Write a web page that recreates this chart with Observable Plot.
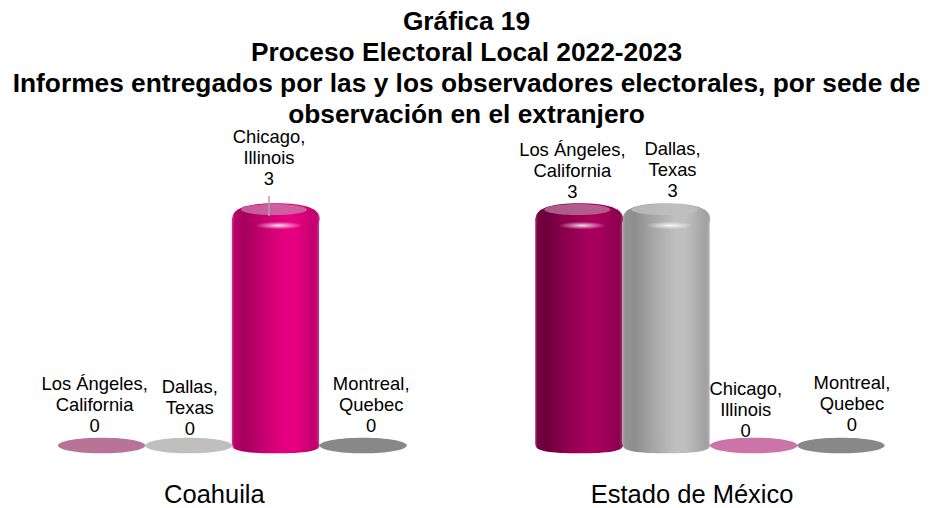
<!DOCTYPE html>
<html lang="es">
<head>
<meta charset="utf-8">
<script src="https://cdn.jsdelivr.net/npm/d3@7"></script>
<script src="https://cdn.jsdelivr.net/npm/@observablehq/plot@0.6"></script>
<style>
html,body{margin:0;padding:0;background:#fff;font-family:"Liberation Sans",Arial,sans-serif;overflow:hidden;}
#title{margin:0;height:128px;padding-top:6px;box-sizing:border-box;text-align:center;font-weight:700;font-size:26.3px;line-height:31px;color:#000;white-space:nowrap;}
#chart svg{display:block;}
</style>
</head>
<body>
<h1 id="title">Gráfica 19<br>Proceso Electoral Local 2022-2023<br>Informes entregados por las y los observadores electorales, por sede de<br>observación en el extranjero</h1>
<div id="chart"></div>
<script>
const groups = ["Coahuila", "Estado de México"];
const sites = ["Los Ángeles, California", "Dallas, Texas", "Chicago, Illinois", "Montreal, Quebec"];
const coahuilaValues = [0, 0, 3, 0];
const mexicoValues = [3, 3, 0, 0];

const rows = [
  ...sites.map((site, i) => ({group: groups[0], site, value: coahuilaValues[i]})),
  ...sites.map((site, i) => ({group: groups[1], site, value: mexicoValues[i]}))
];

// Styling, kept apart from the values
const flatFill = {"Los Ángeles, California": "#b87399", "Dallas, Texas": "#bfbfbf", "Chicago, Illinois": "#cc74a8", "Montreal, Quebec": "#888888"};
const shades = {
  pink: ["#d3338f", "#b8006a", "#a5005f", "#c4006f", "#e5007f", "#e5007f", "#c0006f", "#cc3090"],
  wine: ["#93305f", "#75003f", "#6e003c", "#8c004e", "#a6005c", "#a6005c", "#8c004e", "#a03070"],
  gray: ["#a8a8a8", "#929292", "#8e8e8e", "#a6a6a6", "#bfbfbf", "#bfbfbf", "#a0a0a0", "#b0b0b0"]
};
const shadeStops = [0, .03, .14, .35, .6, .72, .96, 1];
const gradientOf = d => d.site.startsWith("Dallas") ? "gray" : d.group === groups[0] ? "pink" : "wine";
const fillOf = d => `url(#g-${gradientOf(d)})`;

// Per-label nudges [dx, dy] from the bar's top, keyed group|site
const nudges = {
  "Coahuila|Los Ángeles, California": [-7, -14],
  "Coahuila|Dallas, Texas": [1, -11],
  "Coahuila|Chicago, Illinois": [-7, -34],
  "Coahuila|Montreal, Quebec": [8, -14],
  "Estado de México|Los Ángeles, California": [-7, -21],
  "Estado de México|Dallas, Texas": [6, -22],
  "Estado de México|Chicago, Illinois": [-8, -9],
  "Estado de México|Montreal, Quebec": [11, -15]
};

// Ellipse-like symbol: k flattens it, c squares its shoulders (0.5523 is a true ellipse)
const ellipse = (k, c = 0.5523) => ({
  draw(ctx, size) {
    const r = Math.sqrt(size / Math.PI), q = c * r, h = r * k, p = q * k;
    ctx.moveTo(-r, 0);
    ctx.bezierCurveTo(-r, -p, -q, -h, 0, -h);
    ctx.bezierCurveTo(q, -h, r, -p, r, 0);
    ctx.bezierCurveTo(r, p, q, h, 0, h);
    ctx.bezierCurveTo(-q, h, -r, p, -r, 0);
    ctx.closePath();
  }
});

const defs = () => {
  const d = d3.create("svg:defs");
  for (const name of Object.keys(shades)) {
    const g = d.append("linearGradient").attr("id", `g-${name}`).attr("x1", 0).attr("x2", 1).attr("y1", 0).attr("y2", 0);
    shades[name].forEach((c, i) => g.append("stop").attr("offset", shadeStops[i]).attr("stop-color", c));
  }
  const hl = d.append("radialGradient").attr("id", "hl");
  hl.append("stop").attr("offset", 0).attr("stop-color", "#fff").attr("stop-opacity", .9);
  hl.append("stop").attr("offset", .45).attr("stop-color", "#fff").attr("stop-opacity", .45);
  hl.append("stop").attr("offset", 1).attr("stop-color", "#fff").attr("stop-opacity", 0);
  return d.node();
};

const raised = rows.filter(d => d.value > 0);
const zeros = rows.filter(d => d.value === 0);

const plot = Plot.plot({
  width: 933,
  height: 380,
  marginLeft: 57.5,
  marginRight: 49,
  marginTop: 90,
  marginBottom: 63,
  style: {fontFamily: '"Liberation Sans", Arial, sans-serif', background: "#fff", overflow: "visible"},
  fx: {domain: groups, paddingInner: 0.27, paddingOuter: 0, round: false, label: null},
  x: {domain: sites, padding: 0, round: false, axis: null},
  y: {domain: [0, 3], axis: null},
  color: {type: "identity"},
  marks: [
    defs,
    Plot.barY(raised, {fx: "group", x: "site", y: "value", fill: fillOf}),
    Plot.dot(raised, {fx: "group", x: "site", y: () => 0, r: 43.7, symbol: ellipse(0.18, 0.68), fill: fillOf}),
    Plot.dot(raised, {fx: "group", x: "site", y: "value", r: 43.7, symbol: ellipse(0.35, 0.66), fill: fillOf}),
    Plot.dot(raised, {fx: "group", x: "site", y: "value", dx: -2, dy: -9, r: 33, symbol: ellipse(0.17), fill: d => flatFill[d.site], fillOpacity: 0.8}),
    Plot.dot(raised, {fx: "group", x: "site", y: "value", dx: 3, dy: 7, r: 24, symbol: ellipse(0.16), fill: "url(#hl)"}),
    Plot.dot(zeros, {fx: "group", x: "site", y: "value", r: 43.7, symbol: ellipse(0.18), fill: d => flatFill[d.site]}),
    Plot.ruleX(raised.filter(d => d.group === groups[0]), {fx: "group", x: "site", y1: "value", y2: "value", dx: -7, insetTop: -22, insetBottom: 2, stroke: "#a6a6a6", strokeWidth: 1.5}),
    ...rows.map(d => {
      const [dx, dy] = nudges[`${d.group}|${d.site}`];
      return Plot.text([d], {
        fx: "group", x: "site", y: "value", dx, dy,
        text: r => `${r.site.replace(", ", ",\n")}\n${r.value}`,
        lineAnchor: "bottom", lineHeight: 1.14, fontSize: 18.4, fill: "#000"
      });
    }),
    Plot.axisFx({anchor: "bottom", tickSize: 0, tickPadding: 39, fontSize: 25.5, dx: -18, label: null, fill: "#000"})
  ]
});
document.getElementById("chart").append(plot);
</script>
</body>
</html>
